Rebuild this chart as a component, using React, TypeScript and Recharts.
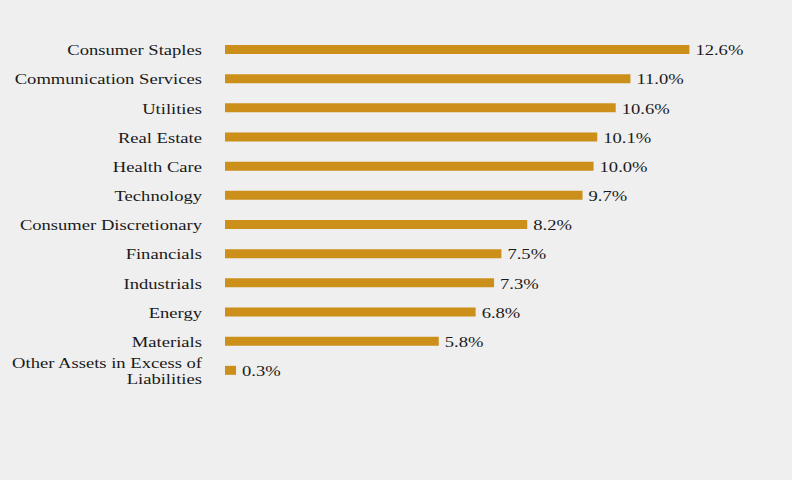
import { BarChart, Bar, XAxis, YAxis, LabelList } from "recharts";

const SECTORS = [
  "Consumer Staples",
  "Communication Services",
  "Utilities",
  "Real Estate",
  "Health Care",
  "Technology",
  "Consumer Discretionary",
  "Financials",
  "Industrials",
  "Energy",
  "Materials",
  "Other Assets in Excess of Liabilities",
];

const WEIGHTS = [12.6, 11.0, 10.6, 10.1, 10.0, 9.7, 8.2, 7.5, 7.3, 6.8, 5.8, 0.3];

const GOLD = "#cc8f1a";
const INK = "#1a1a1a";
const FONT = "'Liberation Serif', 'Times New Roman', serif";
const FS = 15;
const STRETCH = 1.24; // reference type is drawn wide

const data = SECTORS.map((name, i) => ({ name, value: WEIGHTS[i] }));

let ctx: CanvasRenderingContext2D | null = null;
const measure = (s: string) => {
  if (!ctx) {
    ctx = document.createElement("canvas").getContext("2d");
    if (ctx) ctx.font = `${FS}px ${FONT}`;
  }
  return ctx ? ctx.measureText(s).width : s.length * 7;
};

const wrap = (s: string, max: number) => {
  const lines: string[] = [];
  let cur = "";
  for (const w of s.split(" ")) {
    const next = cur ? cur + " " + w : w;
    if (cur && measure(next) > max) {
      lines.push(cur);
      cur = w;
    } else cur = next;
  }
  if (cur) lines.push(cur);
  return lines;
};

const SectorTick = (props: any) => {
  const { x, y, payload } = props;
  const lines = wrap(String(payload.value), 160);
  const lh = 15.5;
  const first = -((lines.length - 1) / 2) * lh + FS * 0.38;
  return (
    <text
      transform={`translate(${x},${y}) scale(${STRETCH},1)`}
      textAnchor="end"
      fontSize={FS}
      fontFamily={FONT}
      fill={INK}
    >
      {lines.map((l, i) => (
        <tspan key={i} x={0} y={first + i * lh}>
          {l}
        </tspan>
      ))}
    </text>
  );
};

const ValueLabel = (props: any) => {
  const { x, y, width, height, value } = props;
  const tx = Number(x) + Number(width) + 6;
  const ty = Number(y) + Number(height) / 2 + FS * 0.38;
  return (
    <text
      transform={`translate(${tx},${ty}) scale(${STRETCH},1)`}
      textAnchor="start"
      fontSize={FS}
      fontFamily={FONT}
      fill={INK}
    >
      {`${Number(value).toFixed(1)}%`}
    </text>
  );
};

export default function App() {
  return (
    <div style={{ position: "absolute", left: 0, top: 0, width: 792, height: 480, background: "#efefef" }}>
      <BarChart
        width={792}
        height={480}
        data={data}
        layout="vertical"
        margin={{ top: 35, right: 51, bottom: 95, left: 0 }}
      >
        <XAxis type="number" domain={[0, 14]} hide />
        <YAxis
          type="category"
          dataKey="name"
          width={225}
          axisLine={false}
          tickLine={false}
          tickSize={0}
          tickMargin={23}
          interval={0}
          tick={<SectorTick />}
        />
        <Bar dataKey="value" fill={GOLD} barSize={9} isAnimationActive={false}>
          <LabelList dataKey="value" content={<ValueLabel />} />
        </Bar>
      </BarChart>
    </div>
  );
}
